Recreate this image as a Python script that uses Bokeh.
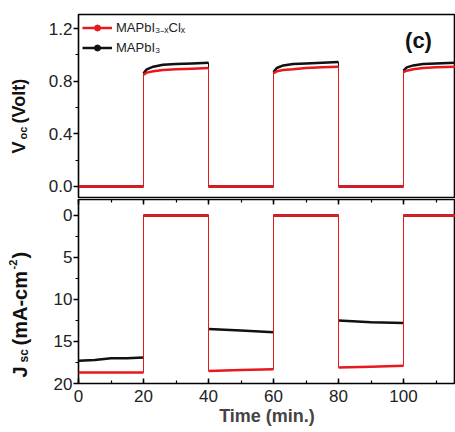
import math
import numpy as np
from bokeh.plotting import figure
from bokeh.layouts import column, row
from bokeh.models import (Range1d, SingleIntervalTicker, LinearAxis, Label, Legend,
                          LegendItem, PrintfTickFormatter, CustomJSTickFormatter)
from bokeh.embed import file_html
from bokeh.resources import INLINE

# ---------------- data ----------------
series_names = ["MAPbI\u2083\u208b\u2093Cl\u2093", "MAPbI\u2083"]

voc_time = [0, 20, 20, 21, 23, 26, 30, 35, 40, 40, 60, 60, 61, 63, 66, 70, 75, 80, 80,
            100, 100, 101, 103, 106, 110, 116]
voc_mixed = [0, 0, 0.85, 0.865, 0.875, 0.885, 0.89, 0.895, 0.90, 0, 0, 0.86, 0.875, 0.885,
             0.89, 0.90, 0.905, 0.91, 0, 0, 0.87, 0.88, 0.89, 0.90, 0.905, 0.91]
voc_pure = [0, 0, 0.86, 0.89, 0.91, 0.925, 0.93, 0.935, 0.94, 0, 0, 0.87, 0.90, 0.92,
            0.93, 0.935, 0.94, 0.945, 0, 0, 0.88, 0.905, 0.92, 0.93, 0.935, 0.94]

jsc_time = [0, 5, 10, 15, 20, 20, 40, 40, 50, 60, 60, 80, 80, 90, 100, 100, 116]
jsc_mixed = [18.7, 18.7, 18.7, 18.7, 18.7, 0, 0, 18.5, 18.4, 18.3, 0, 0, 18.1, 18.0, 17.9, 0, 0]
jsc_pure = [17.3, 17.2, 17.0, 17.0, 16.9, 0, 0, 13.5, 13.7, 13.9, 0, 0, 12.5, 12.7, 12.8, 0, 0]

x_ticks_interval = 20
voc_ticks_interval = 0.4
jsc_ticks_interval = 5

RED = "#e8191e"
BLACK = "#111111"
FONT = "Liberation Sans"
TICK_COLOR = "#222222"
ANG = math.pi / 2


def plateaus(t, v):
    """Break the trace at the vertical switching edges (equal consecutive times)."""
    tt, vv = [], []
    for i in range(len(t)):
        if i > 0 and t[i] == t[i - 1]:
            tt.append(np.nan)
            vv.append(np.nan)
        tt.append(t[i])
        vv.append(v[i])
    return tt, vv


def style_left_axis(ax, interval, fmt=None):
    ax.ticker = SingleIntervalTicker(interval=interval, num_minor_ticks=2)
    if fmt:
        ax.formatter = PrintfTickFormatter(format=fmt)
    ax.axis_line_color = None
    ax.major_tick_in = 0
    ax.major_tick_out = 5
    ax.minor_tick_in = 0
    ax.minor_tick_out = 3
    ax.major_tick_line_width = 1.5
    ax.minor_tick_line_width = 1.2
    ax.major_label_text_font = FONT
    ax.major_label_text_font_size = "17px"
    ax.major_label_text_color = TICK_COLOR
    ax.major_label_standoff = 1


def style_x_ticks(ax):
    ax.ticker = SingleIntervalTicker(interval=x_ticks_interval, num_minor_ticks=2)
    ax.axis_line_color = None
    ax.major_tick_in = 5
    ax.major_tick_out = 0
    ax.minor_tick_in = 3
    ax.minor_tick_out = 0
    ax.major_tick_line_width = 1.5
    ax.minor_tick_line_width = 1.2


def label_figure(height):
    f = figure(width=36, height=height, output_backend="svg", toolbar_location=None,
               x_axis_location=None, y_axis_location=None, min_border=0,
               x_range=Range1d(0, 1), y_range=Range1d(0, 1))
    f.outline_line_color = None
    f.grid.visible = False
    return f


def rot_label(fig, x, y, text, size):
    fig.add_layout(Label(x=x, y=y, x_units="screen", y_units="screen", text=text, angle=ANG,
                         text_font=FONT, text_font_style="bold", text_font_size=size,
                         text_color=BLACK, text_align="left", text_baseline="alphabetic"))


xr = Range1d(0, 116)

# ---------------- top panel: Voc ----------------
p1 = figure(width=419, height=198, x_range=xr, y_range=Range1d(-0.092, 1.307),
            output_backend="svg", toolbar_location=None, x_axis_location=None,
            min_border_left=42, min_border_right=0, min_border_top=14, min_border_bottom=0)
p1.outline_line_color = "black"
p1.outline_line_width = 1.6
p1.grid.visible = False
style_left_axis(p1.yaxis[0], voc_ticks_interval, "%.1f")

p1.line(voc_time, voc_pure, line_color=BLACK, line_width=1)
tt, vv = plateaus(voc_time, voc_pure)
r_pure = p1.line(tt, vv, line_color=BLACK, line_width=2.5)
p1.line(voc_time, voc_mixed, line_color=RED, line_width=1)
tt, vv = plateaus(voc_time, voc_mixed)
r_mix = p1.line(tt, vv, line_color=RED, line_width=2.5)

# marker renderers used only for the legend swatch (no drawable point)
s_mix = p1.scatter([np.nan], [np.nan], marker="circle", size=4, color=RED)
s_pure = p1.scatter([np.nan], [np.nan], marker="circle", size=4, color=BLACK)

legend = Legend(items=[
    LegendItem(label=series_names[0], renderers=[r_mix, s_mix]),
    LegendItem(label=series_names[1], renderers=[r_pure, s_pure]),
], location="top_left")
legend.border_line_color = None
legend.background_fill_alpha = 0
legend.label_text_font = FONT
legend.label_text_font_size = "13px"
legend.label_text_color = TICK_COLOR
legend.glyph_width = 30
legend.glyph_height = 15
legend.spacing = 4
legend.padding = 2
legend.margin = 4
legend.label_standoff = 4
legend.label_height = 15
p1.add_layout(legend)

p1.add_layout(Label(x=340, y=158, x_units="screen", y_units="screen", text="(c)",
                    text_font=FONT, text_font_style="bold", text_font_size="22px",
                    text_color=BLACK, text_align="center", text_baseline="middle"))

lab1 = label_figure(198)
rot_label(lab1, 18, 45, "V", "18px")
rot_label(lab1, 22, 59, "oc", "11px")
rot_label(lab1, 18, 75, "(Volt)", "18px")

# ---------------- bottom panel: Jsc ----------------
p2 = figure(width=419, height=232, x_range=xr, y_range=Range1d(20, -1.9),
            output_backend="svg", toolbar_location=None,
            min_border_left=42, min_border_right=0, min_border_top=1, min_border_bottom=47)
p2.outline_line_color = "black"
p2.outline_line_width = 1.6
p2.grid.visible = False
style_left_axis(p2.yaxis[0], jsc_ticks_interval)

xa = p2.xaxis[0]
style_x_ticks(xa)
xa.major_label_text_font = FONT
xa.major_label_text_font_size = "17px"
xa.major_label_text_color = TICK_COLOR
xa.major_label_standoff = 6
xa.axis_label = "Time (min.)"
xa.axis_label_text_font = FONT
xa.axis_label_text_font_style = "bold"
xa.axis_label_text_font_size = "18px"
xa.axis_label_standoff = 1

top_ticks = LinearAxis(major_label_text_font_size="0px", major_label_standoff=0,
                       formatter=CustomJSTickFormatter(code="return ''"))
style_x_ticks(top_ticks)
p2.add_layout(top_ticks, "above")

p2.line(jsc_time, jsc_pure, line_color=BLACK, line_width=1)
tt, vv = plateaus(jsc_time, jsc_pure)
p2.line(tt, vv, line_color=BLACK, line_width=2.5)
p2.line(jsc_time, jsc_mixed, line_color=RED, line_width=1)
tt, vv = plateaus(jsc_time, jsc_mixed)
p2.line(tt, vv, line_color=RED, line_width=2.5)

lab2 = label_figure(232)
rot_label(lab2, 19, 6, "J", "20px")
rot_label(lab2, 23, 21, "sc", "12px")
rot_label(lab2, 19, 38, "(mA-cm", "20px")
rot_label(lab2, 12, 114, "-2", "11px")
rot_label(lab2, 19, 125, ")", "20px")

layout = column(row(lab1, p1, spacing=0), row(lab2, p2, spacing=0), spacing=0)
open("out.html", "w").write(file_html(layout, INLINE))
